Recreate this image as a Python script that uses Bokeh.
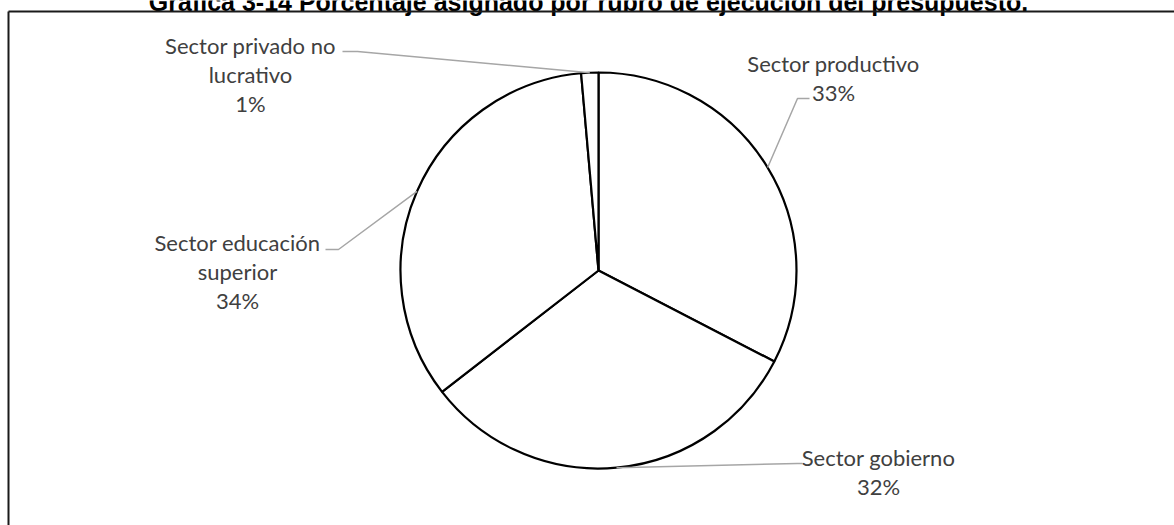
import math
from bokeh.plotting import figure
from bokeh.models import Range1d
from bokeh.core.properties import value
from bokeh.embed import file_html
from bokeh.resources import INLINE

# ---- data ----
categories = ["Sector productivo", "Sector gobierno",
              "Sector educación superior", "Sector privado no lucrativo"]
values = [32.6, 31.9, 34.1, 1.4]
label_lines = [["Sector productivo"], ["Sector gobierno"],
               ["Sector educación", "superior"], ["Sector privado no", "lucrativo"]]
title = "Gráfica 3-14 Porcentaje asignado por rubro de ejecución del presupuesto."

# ---- layout (pixels, y measured from top) ----
W, H = 1174, 525
cx, cy, R = 598, 270, 198
label_pos = [(833, 63), (878, 457), (237, 242), (250, 45)]      # centre x, first-line centre y
leader_anchor = [[(809, 98), (797, 98)], [(802, 463), (797, 463)],
                 [(325, 249), (338, 249)], [(342, 51), (357, 51)]]
line_gap = 29

def Y(y):
    return H - y

p = figure(width=W, height=H, output_backend="svg", toolbar_location=None,
           x_range=Range1d(0, W), y_range=Range1d(0, H), min_border=0)
p.axis.visible = False
p.grid.visible = False
p.outline_line_color = None
p.background_fill_color = "white"
p.border_fill_color = "white"

# pie
total = sum(values)
cum = 0.0
starts, ends, mids = [], [], []
for v in values:
    f0 = cum / total
    f1 = (cum + v) / total
    starts.append(math.pi / 2 - 2 * math.pi * f0)
    ends.append(math.pi / 2 - 2 * math.pi * f1)
    mids.append((f0 + f1) / 2)
    cum += v

p.wedge(x=[cx] * len(values), y=[Y(cy)] * len(values), radius=R,
        start_angle=starts, end_angle=ends, direction="clock",
        fill_color="white", line_color="black", line_width=2.2)

# leader lines
xs, ys = [], []
for (a, b), m in zip(leader_anchor, mids):
    ang = 2 * math.pi * m
    ex = cx + R * math.sin(ang)
    ey = cy - R * math.cos(ang)
    xs.append([a[0], b[0], ex])
    ys.append([Y(a[1]), Y(b[1]), Y(ey)])
p.multi_line(xs=xs, ys=ys, line_color="#a6a6a6", line_width=1.5)

# labels
tx, ty, tt = [], [], []
for (lx, ly), lines, v in zip(label_pos, label_lines, values):
    all_lines = lines + [f"{round(v)}%"]
    for i, s in enumerate(all_lines):
        tx.append(lx)
        ty.append(Y(ly + i * line_gap))
        tt.append(s)
p.text(x=tx, y=ty, text=tt, text_align="center", text_baseline="middle",
       text_font=value("Lato"), text_font_size="22px", text_color="#404040")

# title (cut at top of the page, as in the reference) and frame
p.text(x=[588], y=[Y(1)], text=[title], text_align="center",
       text_baseline="alphabetic", text_font=value("Liberation Sans"),
       text_font_style="bold", text_font_size="25px", text_color="black")
p.segment(x0=[8, 8], y0=[Y(11), Y(11)], x1=[W, 8], y1=[Y(11), 0],
          line_color="#1a1a1a", line_width=2)

open("out.html", "w").write(file_html(p, INLINE))
